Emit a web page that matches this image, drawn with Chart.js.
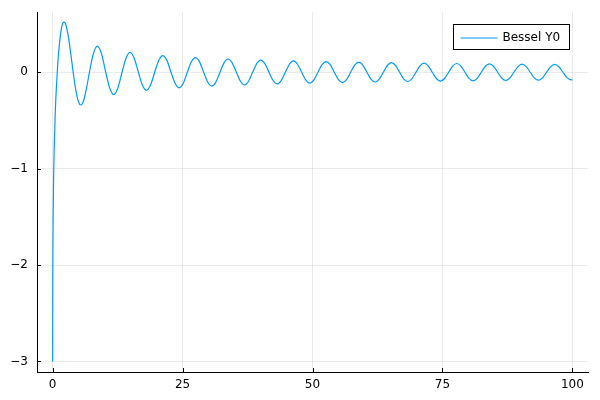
<!DOCTYPE html>
<html>
<head>
<meta charset="utf-8">
<script src="https://cdn.jsdelivr.net/npm/chart.js@4"></script>
<style>
  body { margin: 0; background: #fff; }
  #wrap { width: 600px; height: 400px; }
</style>
</head>
<body>
<div id="wrap"><canvas id="besselChart" width="600" height="400"></canvas></div>
<script>
// values: the steep start, then for each wave the zero crossing,
// the half-way point, the peak, the half-way point
const xValues = [
    0.01, 0.02, 0.05, 0.1, 0.2, 0.3, 0.5, 0.7, 0.894, 1.2, 1.5, 1.8, 2.197, 2.5, 3.0, 3.5,
    3.958, 4.5, 5.0, 5.43, 6.0, 6.5,
    7.086, 7.84, 8.596, 9.41, 10.222, 10.99, 11.749, 12.56,
    13.361, 14.13, 14.897, 15.70, 16.501, 17.27, 18.043, 18.84,
    19.641, 20.41, 21.188, 21.99, 22.782, 23.56, 24.332, 25.13,
    25.923, 26.70, 27.475, 28.27, 29.064, 29.84, 30.618, 31.41,
    32.205, 32.98, 33.761, 34.55, 35.347, 36.13, 36.904, 37.70,
    38.488, 39.27, 40.046, 40.84, 41.629, 42.41, 43.188, 43.98,
    44.771, 45.55, 46.330, 47.12, 47.912, 48.69, 49.473, 50.26,
    51.053, 51.83, 52.615, 53.41, 54.195, 54.98, 55.756, 56.55,
    57.336, 58.12, 58.898, 59.69, 60.478, 61.26, 62.040, 62.83,
    63.619, 64.40, 65.182, 65.97, 66.760, 67.54, 68.324, 69.11,
    69.902, 70.68, 71.465, 72.25, 73.043, 73.83, 74.607, 75.40,
    76.185, 76.97, 77.749, 78.54, 79.326, 80.11, 80.890, 81.68,
    82.468, 83.25, 84.032, 84.82, 85.609, 86.39, 87.174, 87.96,
    88.751, 89.53, 90.315, 91.10, 91.892, 92.67, 93.457, 94.25,
    95.033, 95.82, 96.598, 97.39, 98.175, 98.96, 99.740, 100
];
const yValues = [
    -3.0, -2.56, -1.98, -1.53, -1.08, -0.81, -0.44, -0.19, 0, 0.23, 0.38, 0.48, 0.52, 0.50, 0.38, 0.19,
    0, -0.195, -0.308, -0.340, -0.288, -0.173,
    0, 0.192, 0.2715, 0.192, 0, -0.164, -0.2325, -0.164,
    0, 0.146, 0.2065, 0.146, 0, -0.133, -0.1877, -0.133,
    0, 0.123, 0.1733, 0.123, 0, -0.114, -0.1617, -0.114,
    0, 0.108, 0.1522, 0.108, 0, -0.102, -0.1442, -0.102,
    0, 0.097, 0.1373, 0.097, 0, -0.093, -0.1313, -0.093,
    0, 0.089, 0.1261, 0.089, 0, -0.086, -0.1214, -0.086,
    0, 0.083, 0.1172, 0.083, 0, -0.080, -0.1134, -0.080,
    0, 0.078, 0.1100, 0.078, 0, -0.076, -0.1069, -0.076,
    0, 0.074, 0.1040, 0.074, 0, -0.072, -0.1013, -0.072,
    0, 0.070, 0.0988, 0.070, 0, -0.068, -0.0965, -0.068,
    0, 0.067, 0.0944, 0.067, 0, -0.065, -0.0924, -0.065,
    0, 0.064, 0.0905, 0.064, 0, -0.063, -0.0887, -0.063,
    0, 0.062, 0.0870, 0.062, 0, -0.060, -0.0855, -0.060,
    0, 0.059, 0.0840, 0.059, 0, -0.058, -0.0825, -0.058,
    0, 0.057, 0.0812, 0.057, 0, -0.056, -0.0799, -0.0775
];
const xTicks = [0, 25, 50, 75, 100];
const yTicks = [-3, -2, -1, 0];
const seriesName = 'Bessel Y0';
const lineColor = '#009AFA';

function tickLabel(v) {
    return v < 0 ? '\u2212' + Math.abs(v) : String(v);
}

// small inward tick marks on both axes
const innerTicks = {
    id: 'innerTicks',
    afterDatasetsDraw(chart) {
        const ctx = chart.ctx;
        const area = chart.chartArea;
        const xs = chart.scales.x, ys = chart.scales.y;
        ctx.save();
        ctx.strokeStyle = '#000';
        ctx.lineWidth = 1;
        ctx.beginPath();
        xTicks.forEach(t => {
            const px = Math.round(xs.getPixelForValue(t)) + 0.5;
            ctx.moveTo(px, area.bottom);
            ctx.lineTo(px, area.bottom - 4);
        });
        yTicks.forEach(t => {
            const py = Math.round(ys.getPixelForValue(t)) + 0.5;
            ctx.moveTo(area.left, py);
            ctx.lineTo(area.left + 4, py);
        });
        ctx.stroke();
        ctx.restore();
    }
};

// legend box in the top right corner of the plot area
const cornerLegend = {
    id: 'cornerLegend',
    afterDraw(chart) {
        const ctx = chart.ctx;
        const area = chart.chartArea;
        const w = 116, h = 25;
        const left = Math.round(area.right - 19 - w) + 0.5;
        const top = Math.round(area.top + 12) + 0.5;
        ctx.save();
        ctx.fillStyle = '#fff';
        ctx.fillRect(left, top, w, h);
        ctx.strokeStyle = '#000';
        ctx.lineWidth = 1;
        ctx.strokeRect(left, top, w, h);
        ctx.strokeStyle = lineColor;
        ctx.lineWidth = 1.2;
        ctx.beginPath();
        ctx.moveTo(left + 7, top + h / 2 + 1);
        ctx.lineTo(left + 44, top + h / 2 + 1);
        ctx.stroke();
        ctx.fillStyle = '#000';
        ctx.font = '12px "DejaVu Sans"';
        ctx.textBaseline = 'middle';
        ctx.fillText(chart.data.datasets[0].label, left + 49, top + h / 2 + 1);
        ctx.restore();
    }
};

const points = xValues.map((x, i) => ({ x: x, y: yValues[i] }));

new Chart(document.getElementById('besselChart'), {
    type: 'line',
    data: {
        datasets: [{
            label: seriesName,
            data: points,
            borderColor: lineColor,
            borderWidth: 1.2,
            pointRadius: 0,
            fill: false,
            cubicInterpolationMode: 'monotone'
        }]
    },
    options: {
        responsive: false,
        animation: false,
        devicePixelRatio: 1,
        layout: { padding: { top: 12, right: 12, left: 0, bottom: 0 } },
        plugins: {
            legend: { display: false },
            tooltip: { enabled: false }
        },
        scales: {
            x: {
                type: 'linear',
                min: -3,
                max: 103,
                afterBuildTicks: s => { s.ticks = xTicks.map(v => ({ value: v })); },
                afterFit: s => { s.height = 28; s.paddingLeft = 0; s.paddingRight = 0; },
                grid: { color: 'rgba(0,0,0,0.08)', drawTicks: false },
                border: { color: '#000', width: 1 },
                ticks: {
                    padding: 6,
                    color: '#000',
                    font: { family: 'DejaVu Sans', size: 12 },
                    maxRotation: 0,
                    callback: tickLabel
                }
            },
            y: {
                type: 'linear',
                min: -3.11,
                max: 0.625,
                afterBuildTicks: s => { s.ticks = yTicks.map(v => ({ value: v })); },
                afterFit: s => { s.width = 37; s.paddingTop = 0; s.paddingBottom = 0; },
                grid: { color: 'rgba(0,0,0,0.08)', drawTicks: false },
                border: { color: '#000', width: 1 },
                ticks: {
                    padding: 9,
                    color: '#000',
                    font: { family: 'DejaVu Sans', size: 12 },
                    callback: tickLabel
                }
            }
        }
    },
    plugins: [innerTicks, cornerLegend]
});
</script>
</body>
</html>
